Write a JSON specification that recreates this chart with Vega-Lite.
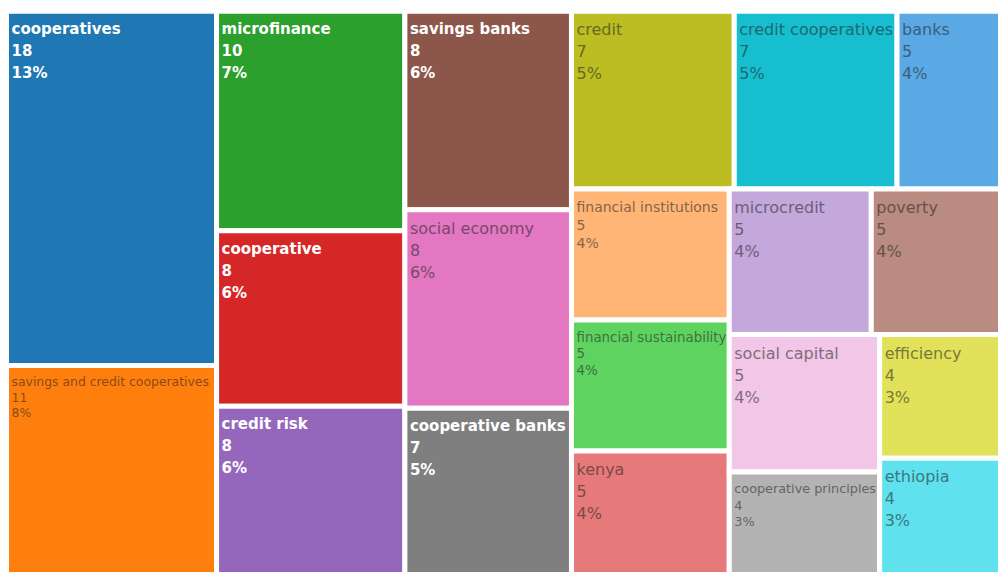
{
  "$schema": "https://vega.github.io/schema/vega-lite/v6.json",
  "width": 998,
  "height": 572,
  "autosize": "none",
  "padding": 0,
  "background": "white",
  "config": {"view": {"stroke": null}},
  "data": {
    "values": [
      {"i": 1, "label": "cooperatives", "value": 18, "l1": "A", "l2": "cooperatives", "l3": "cooperatives", "l4": "cooperatives", "l5": "cooperatives", "l6": "cooperatives"},
      {"i": 2, "label": "savings and credit cooperatives", "value": 11, "l1": "A", "l2": "savings and credit cooperatives", "l3": "savings and credit cooperatives", "l4": "savings and credit cooperatives", "l5": "savings and credit cooperatives", "l6": "savings and credit cooperatives"},
      {"i": 3, "label": "microfinance", "value": 10, "l1": "B", "l2": "microfinance", "l3": "microfinance", "l4": "microfinance", "l5": "microfinance", "l6": "microfinance"},
      {"i": 4, "label": "cooperative", "value": 8, "l1": "B", "l2": "cooperative", "l3": "cooperative", "l4": "cooperative", "l5": "cooperative", "l6": "cooperative"},
      {"i": 5, "label": "credit risk", "value": 8, "l1": "B", "l2": "credit risk", "l3": "credit risk", "l4": "credit risk", "l5": "credit risk", "l6": "credit risk"},
      {"i": 6, "label": "savings banks", "value": 8, "l1": "C", "l2": "savings banks", "l3": "savings banks", "l4": "savings banks", "l5": "savings banks", "l6": "savings banks"},
      {"i": 7, "label": "social economy", "value": 8, "l1": "C", "l2": "social economy", "l3": "social economy", "l4": "social economy", "l5": "social economy", "l6": "social economy"},
      {"i": 8, "label": "cooperative banks", "value": 7, "l1": "C", "l2": "cooperative banks", "l3": "cooperative banks", "l4": "cooperative banks", "l5": "cooperative banks", "l6": "cooperative banks"},
      {"i": 9, "label": "credit", "value": 7, "l1": "D", "l2": "top", "l3": "credit", "l4": "credit", "l5": "credit", "l6": "credit"},
      {"i": 10, "label": "credit cooperatives", "value": 7, "l1": "D", "l2": "top", "l3": "credit cooperatives", "l4": "credit cooperatives", "l5": "credit cooperatives", "l6": "credit cooperatives"},
      {"i": 11, "label": "banks", "value": 5, "l1": "D", "l2": "top", "l3": "banks", "l4": "banks", "l5": "banks", "l6": "banks"},
      {"i": 12, "label": "financial institutions", "value": 5, "l1": "D", "l2": "bottom", "l3": "E", "l4": "financial institutions", "l5": "financial institutions", "l6": "financial institutions"},
      {"i": 13, "label": "financial sustainability", "value": 5, "l1": "D", "l2": "bottom", "l3": "E", "l4": "financial sustainability", "l5": "financial sustainability", "l6": "financial sustainability"},
      {"i": 14, "label": "kenya", "value": 5, "l1": "D", "l2": "bottom", "l3": "E", "l4": "kenya", "l5": "kenya", "l6": "kenya"},
      {"i": 15, "label": "microcredit", "value": 5, "l1": "D", "l2": "bottom", "l3": "F", "l4": "row", "l5": "microcredit", "l6": "microcredit"},
      {"i": 16, "label": "poverty", "value": 5, "l1": "D", "l2": "bottom", "l3": "F", "l4": "row", "l5": "poverty", "l6": "poverty"},
      {"i": 17, "label": "social capital", "value": 5, "l1": "D", "l2": "bottom", "l3": "F", "l4": "G", "l5": "G1", "l6": "social capital"},
      {"i": 18, "label": "cooperative principles", "value": 4, "l1": "D", "l2": "bottom", "l3": "F", "l4": "G", "l5": "G1", "l6": "cooperative principles"},
      {"i": 19, "label": "efficiency", "value": 4, "l1": "D", "l2": "bottom", "l3": "F", "l4": "G", "l5": "G2", "l6": "efficiency"},
      {"i": 20, "label": "ethiopia", "value": 4, "l1": "D", "l2": "bottom", "l3": "F", "l4": "G", "l5": "G2", "l6": "ethiopia"}
    ]
  },
  "transform": [
    {"joinaggregate": [{"op": "sum", "field": "value", "as": "T"}]},
    {"window": [{"op": "sum", "field": "value", "as": "c1"}], "sort": [{"field": "i"}]},
    {"calculate": "datum.c1 - datum.value", "as": "p1"},
    {"joinaggregate": [{"op": "min", "field": "p1", "as": "s1"}, {"op": "sum", "field": "value", "as": "t1"}], "groupby": ["l1"]},
    {"calculate": "datum.s1 / datum.T", "as": "X1a"},
    {"calculate": "(datum.s1 + datum.t1) / datum.T", "as": "X1b"},
    {"window": [{"op": "sum", "field": "value", "as": "c2"}], "sort": [{"field": "i"}], "groupby": ["l1"]},
    {"calculate": "datum.c2 - datum.value", "as": "p2"},
    {"joinaggregate": [{"op": "min", "field": "p2", "as": "s2"}, {"op": "sum", "field": "value", "as": "t2"}], "groupby": ["l1", "l2"]},
    {"calculate": "datum.s2 / datum.t1", "as": "Y2a"},
    {"calculate": "(datum.s2 + datum.t2) / datum.t1", "as": "Y2b"},
    {"window": [{"op": "sum", "field": "value", "as": "c3"}], "sort": [{"field": "i"}], "groupby": ["l1", "l2"]},
    {"calculate": "datum.c3 - datum.value", "as": "p3"},
    {"joinaggregate": [{"op": "min", "field": "p3", "as": "s3"}, {"op": "sum", "field": "value", "as": "t3"}], "groupby": ["l1", "l2", "l3"]},
    {"calculate": "datum.X1a + (datum.X1b - datum.X1a) * datum.s3 / datum.t2", "as": "X3a"},
    {"calculate": "datum.X1a + (datum.X1b - datum.X1a) * (datum.s3 + datum.t3) / datum.t2", "as": "X3b"},
    {"window": [{"op": "sum", "field": "value", "as": "c4"}], "sort": [{"field": "i"}], "groupby": ["l1", "l2", "l3"]},
    {"calculate": "datum.c4 - datum.value", "as": "p4"},
    {"joinaggregate": [{"op": "min", "field": "p4", "as": "s4"}, {"op": "sum", "field": "value", "as": "t4"}], "groupby": ["l1", "l2", "l3", "l4"]},
    {"calculate": "datum.Y2a + (datum.Y2b - datum.Y2a) * datum.s4 / datum.t3", "as": "Y4a"},
    {"calculate": "datum.Y2a + (datum.Y2b - datum.Y2a) * (datum.s4 + datum.t4) / datum.t3", "as": "Y4b"},
    {"window": [{"op": "sum", "field": "value", "as": "c5"}], "sort": [{"field": "i"}], "groupby": ["l1", "l2", "l3", "l4"]},
    {"calculate": "datum.c5 - datum.value", "as": "p5"},
    {"joinaggregate": [{"op": "min", "field": "p5", "as": "s5"}, {"op": "sum", "field": "value", "as": "t5"}], "groupby": ["l1", "l2", "l3", "l4", "l5"]},
    {"calculate": "datum.X3a + (datum.X3b - datum.X3a) * datum.s5 / datum.t4", "as": "x0"},
    {"calculate": "datum.X3a + (datum.X3b - datum.X3a) * (datum.s5 + datum.t5) / datum.t4", "as": "x1"},
    {"window": [{"op": "sum", "field": "value", "as": "c6"}], "sort": [{"field": "i"}], "groupby": ["l1", "l2", "l3", "l4", "l5"]},
    {"calculate": "datum.c6 - datum.value", "as": "p6"},
    {"joinaggregate": [{"op": "min", "field": "p6", "as": "s6"}, {"op": "sum", "field": "value", "as": "t6"}], "groupby": ["l1", "l2", "l3", "l4", "l5", "l6"]},
    {"calculate": "datum.Y4a + (datum.Y4b - datum.Y4a) * datum.s6 / datum.t5", "as": "y0"},
    {"calculate": "datum.Y4a + (datum.Y4b - datum.Y4a) * (datum.s6 + datum.t6) / datum.t5", "as": "y1"},
    {"calculate": "datum.label + '\\n' + datum.value + '\\n' + round(datum.value / datum.T * 100) + '%'", "as": "txt"}
  ],
  "encoding": {
    "x": {"field": "x0", "type": "quantitative", "scale": {"domain": [-0.00646, 0.9848], "nice": false, "zero": false}, "axis": null},
    "y": {"field": "y0", "type": "quantitative", "scale": {"domain": [-0.01962, 0.9825], "reverse": true, "nice": false, "zero": false}, "axis": null}
  },
  "layer": [
    {
      "mark": {"type": "rect", "stroke": "white", "strokeWidth": 5, "clip": true},
      "encoding": {
        "x2": {"field": "x1"},
        "y2": {"field": "y1"},
        "color": {
          "field": "label",
          "type": "nominal",
          "legend": null,
          "scale": {
            "domain": ["cooperatives", "savings and credit cooperatives", "microfinance", "cooperative", "credit risk", "savings banks", "social economy", "cooperative banks", "credit", "credit cooperatives", "banks", "financial institutions", "financial sustainability", "kenya", "microcredit", "poverty", "social capital", "cooperative principles", "efficiency", "ethiopia"],
            "range": ["#1f77b4", "#ff7f0e", "#2ca02c", "#d62728", "#9467bd", "#8c564b", "#e377c2", "#7f7f7f", "#bcbd22", "#17becf", "#5aa9e4", "#ffb576", "#5fd35f", "#e67a7a", "#c4a8dc", "#ba8b80", "#f1c6e6", "#b3b3b3", "#e1e25a", "#5fe1ee"]
          }
        }
      }
    },
    {
      "transform": [{"filter": {"field": "label", "oneOf": ["cooperatives", "microfinance", "cooperative", "credit risk", "savings banks", "cooperative banks"]}}],
      "mark": {"type": "text", "align": "left", "baseline": "top", "dx": 5, "dy": 11, "font": "DejaVu Sans", "fontWeight": "bold", "fontSize": 15, "lineHeight": 22, "lineBreak": "\n", "fill": "white", "clip": true},
      "encoding": {"text": {"field": "txt", "type": "nominal"}}
    },
    {
      "transform": [{"filter": {"field": "label", "oneOf": ["social economy", "credit", "credit cooperatives", "banks", "kenya", "microcredit", "poverty", "social capital", "efficiency", "ethiopia"]}}],
      "mark": {"type": "text", "align": "left", "baseline": "top", "dx": 5, "dy": 11, "font": "DejaVu Sans", "fontSize": 16, "lineHeight": 22, "lineBreak": "\n", "fill": "#222", "opacity": 0.55, "clip": true},
      "encoding": {"text": {"field": "txt", "type": "nominal"}}
    },
    {
      "transform": [{"filter": {"field": "label", "oneOf": ["savings and credit cooperatives", "financial institutions", "financial sustainability", "cooperative principles"]}}],
      "mark": {
        "type": "text", "align": "left", "baseline": "top", "dx": 5,
        "dy": {"expr": "datum.label == 'financial institutions' ? 12 : 11"},
        "font": "DejaVu Sans",
        "fontSize": {"expr": "datum.label == 'financial institutions' ? 14 : datum.label == 'financial sustainability' ? 13.4 : datum.label == 'cooperative principles' ? 12.8 : 12.4"},
        "lineHeight": {"expr": "datum.label == 'financial institutions' ? 18 : datum.label == 'savings and credit cooperatives' ? 15.5 : 16.5"},
        "lineBreak": "\n", "fill": "#222", "opacity": 0.55, "clip": true},
      "encoding": {"text": {"field": "txt", "type": "nominal"}}
    }
  ]
}
